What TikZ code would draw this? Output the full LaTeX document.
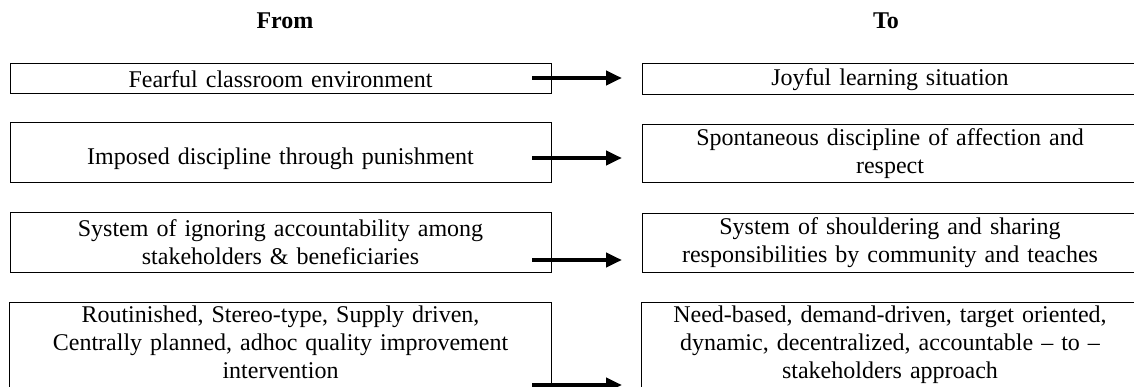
\documentclass[tikz,border=0pt]{standalone}
\usepackage{fontspec}
\setmainfont{Liberation Serif}
\usetikzlibrary{arrows.meta}
\tikzset{
  x=1pt, y=-1pt,
  txt/.style={font=\fontsize{24}{28}\selectfont, align=center},
  hdr/.style={font=\fontsize{24}{28}\selectfont\bfseries, inner sep=0pt},
  lbox/.style={txt, draw=black, line width=1pt, text width=533pt, inner xsep=4pt, inner ysep=2pt},
  rbox/.style={txt, draw=black, line width=1pt, text width=488pt, inner xsep=4pt, inner ysep=2pt},
  openbox/.style={line width=1pt},
  arr/.style={line width=4pt, -{Triangle[length=16pt,width=14pt]}}
}
\begin{document}
\begin{tikzpicture}
\useasboundingbox (0,0) rectangle (1134,387);
\node[hdr] (from) at (285,21) {From};
\node[hdr] (to) at (886,21) {To};

\node[lbox, minimum height=30pt] (l1) at (280.5,79) {Fearful classroom environment};
\node[rbox, minimum height=31pt] (r1) at (890,79.5) {Joyful learning situation};

\node[lbox, minimum height=60pt, text height=28pt] (l2) at (280.5,153) {Imposed discipline through punishment};
\node[rbox, minimum height=58pt] (r2) at (890,154) {Spontaneous discipline of affection and\\ respect};

\node[lbox, minimum height=59pt] (l3) at (280.5,242.5) {System of ignoring accountability among\\ stakeholders \& beneficiaries};
\node[rbox, minimum height=58pt] (r3) at (890,243) {System of shouldering and sharing\\ responsibilities by community and teaches};

\coordinate (bot) at (0,398);
\node[lbox, draw=none, anchor=north, inner ysep=3pt] (l4) at (280.5,302) {Routinished, Stereo-type, Supply driven,\\ Centrally planned, adhoc quality improvement\\ intervention};
\node[rbox, draw=none, anchor=north, inner ysep=3pt] (r4) at (890,302) {Need-based, demand-driven, target oriented,\\ dynamic, decentralized, accountable -- to --\\ stakeholders approach};
\draw[openbox] (l4.north west) rectangle (l4.north east |- bot);
\draw[openbox] (r4.north west) rectangle (r4.north east |- bot);

\coordinate (s1) at (532,78);  \coordinate (e1) at (622,78);
\coordinate (s2) at (532,158); \coordinate (e2) at (622,158);
\coordinate (s3) at (532,260); \coordinate (e3) at (622,260);
\coordinate (s4) at (532,385); \coordinate (e4) at (622,385);
\draw[arr] (s1) -- (e1);
\draw[arr] (s2) -- (e2);
\draw[arr] (s3) -- (e3);
\draw[arr] (s4) -- (e4);
\end{tikzpicture}
\end{document}
